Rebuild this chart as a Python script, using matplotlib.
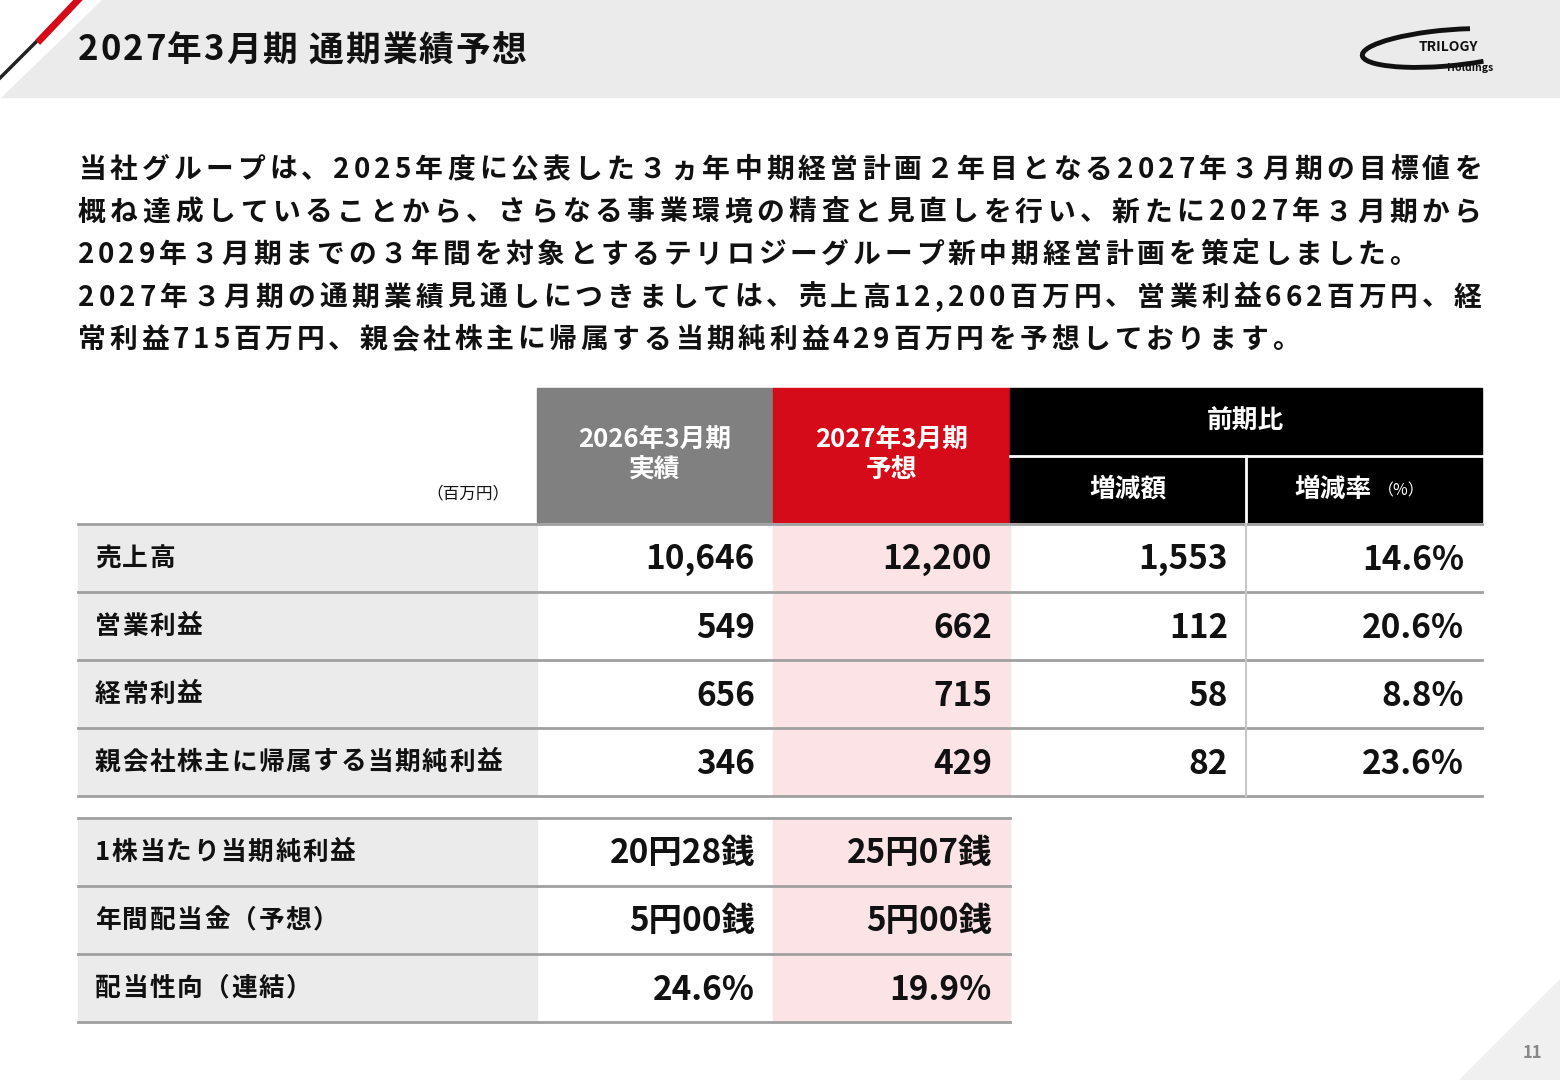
import matplotlib
matplotlib.use("Agg")
import matplotlib.pyplot as plt
from matplotlib.patches import Rectangle, Polygon, Arc

plt.rcParams['font.family'] = ['Noto Sans CJK JP', 'DejaVu Sans']

title = "2027年3月期 通期業績予想"
paragraph = [
    "当社グループは、2025年度に公表した３ヵ年中期経営計画２年目となる2027年３月期の目標値を",
    "概ね達成していることから、さらなる事業環境の精査と見直しを行い、新たに2027年３月期から",
    "2029年３月期までの３年間を対象とするテリロジーグループ新中期経営計画を策定しました。",
    "2027年３月期の通期業績見通しにつきましては、売上高12,200百万円、営業利益662百万円、経",
    "常利益715百万円、親会社株主に帰属する当期純利益429百万円を予想しております。",
]
justify = [True, True, False, True, False]
col_headers = ["2026年3月期\n実績", "2027年3月期\n予想"]
row_labels = ["売上高", "営業利益", "経常利益", "親会社株主に帰属する当期純利益"]
actual_2026 = ["10,646", "549", "656", "346"]
forecast_2027 = ["12,200", "662", "715", "429"]
change_amt = ["1,553", "112", "58", "82"]
change_rate = ["14.6%", "20.6%", "8.8%", "23.6%"]
sub_labels = ["1株当たり当期純利益", "年間配当金（予想）", "配当性向（連結）"]
sub_2026 = ["20円28銭", "5円00銭", "24.6%"]
sub_2027 = ["25円07銭", "5円00銭", "19.9%"]

fig = plt.figure(figsize=(15.6, 10.8), dpi=100)
ax = fig.add_axes([0, 0, 1, 1])
ax.set_xlim(0, 1560); ax.set_ylim(1080, 0); ax.axis('off')
renderer = fig.canvas.get_renderer()

def str_width(s, fs):
    t = ax.text(0, 0, s, fontsize=fs, fontweight='bold')
    w = t.get_window_extent(renderer).width
    t.remove()
    return w

def spaced_text(x, y, s, fs, extra=None, last_start=None, color='#111111'):
    ws = [str_width(c, fs) for c in s]
    if last_start is not None:
        extra = (last_start - x - sum(ws[:-1])) / (len(s) - 1)
    cx = x
    for c, w in zip(s, ws):
        ax.text(cx, y, c, fontsize=fs, fontweight='bold', va='center', ha='left', color=color)
        cx += w + extra

# header band
ax.add_patch(Rectangle((0, 0), 1560, 97, color='#ebebeb', zorder=0))
ax.add_patch(Polygon([[0, 97], [0, 0], [100, 0]], color='white', zorder=1))
ax.plot([0, 78], [78, 0], color='#222222', lw=2.5, zorder=2)
ax.plot([40, 78], [40, 0], color='#d50b1a', lw=5, zorder=2)
spaced_text(78, 50, title, 25, extra=1.8)
# logo
ax.add_patch(Arc((1447, 48), 170, 36, angle=-5, theta1=25, theta2=325, lw=3.5, color='#111111'))
ax.text(1448, 47, "TRILOGY", fontsize=10, fontweight='bold', style='italic', ha='center', va='center', color='#111111')
ax.text(1470, 68, "Holdings", fontsize=7.5, fontweight='bold', ha='center', va='center', color='#111111')

# paragraph
PF = 20
for i, line in enumerate(paragraph):
    if justify[i]:
        spaced_text(78, 170 + i * 42.5, line, PF, last_start=1454)
    else:
        spaced_text(78, 170 + i * 42.5, line, PF, extra=3.8)

# table geometry
xL, x1, x2, x3, x4, xR = 78, 537, 773, 1010, 1246, 1482
ax.add_patch(Rectangle((x1, 388), x2 - x1, 134, color='#808080'))
ax.add_patch(Rectangle((x2, 388), x3 - x2, 134, color='#d50b1a'))
ax.add_patch(Rectangle((x3, 388), xR - x3, 134, color='#000000'))
ax.plot([x3, xR], [456, 456], color='white', lw=2)
ax.plot([x4, x4], [456, 522], color='white', lw=2)
for x0, xe, lab in [(x1, x2, col_headers[0]), (x2, x3, col_headers[1])]:
    ax.text((x0 + xe) / 2, 455, lab, fontsize=18.5, fontweight='bold', color='white', ha='center', va='center', linespacing=1.1)
ax.text((x3 + xR) / 2, 421, "前期比", fontsize=18.5, fontweight='bold', color='white', ha='center', va='center')
ax.text((x3 + x4) / 2, 489, "増減額", fontsize=18.5, fontweight='bold', color='white', ha='center', va='center')
ax.text(1294, 489, "増減率", fontsize=18.5, fontweight='bold', color='white', ha='left', va='center')
ax.text(1378, 491, "（%）", fontsize=11.5, color='white', ha='left', va='center')
ax.text(510, 494, "（百万円）", fontsize=12, color='#111111', ha='right', va='center')

def draw_rows(top, labels, cols, rh=68, full=True):
    right = xR if full else x3
    for i, lab in enumerate(labels):
        y0 = top + i * rh
        ax.add_patch(Rectangle((xL, y0), x1 - xL, rh, color='#ebebeb', zorder=0))
        ax.add_patch(Rectangle((x2, y0), x3 - x2, rh, color='#fce4e6', zorder=0))
        spaced_text(95, y0 + rh / 2, lab, 18.5, extra=1.5)
        edges = [x1, x2, x3, x4, xR]
        for j, vals in enumerate(cols):
            ax.text(edges[j + 1] - 18, y0 + rh / 2 + 2, vals[i], fontsize=24, fontweight='bold',
                    va='center', ha='right', color='#111111')
        ax.plot([xL, right], [y0 + rh, y0 + rh], color='#a0a0a0', lw=2, zorder=3)
    ax.plot([xL, right], [top, top], color='#a0a0a0', lw=2, zorder=3)
    if full:
        ax.plot([x4, x4], [top, top + rh * len(labels)], color='#c8c8c8', lw=1.5, zorder=3)

draw_rows(524, row_labels, [actual_2026, forecast_2027, change_amt, change_rate])
draw_rows(818, sub_labels, [sub_2026, sub_2027], full=False)

# bottom right decoration
ax.add_patch(Polygon([[1460, 1080], [1560, 980], [1560, 1080]], color='#f0f0f0'))
ax.text(1532, 1053, "11", fontsize=12, fontweight='bold', color='#888888', ha='center', va='center')

fig.savefig("out.png", dpi=100)
